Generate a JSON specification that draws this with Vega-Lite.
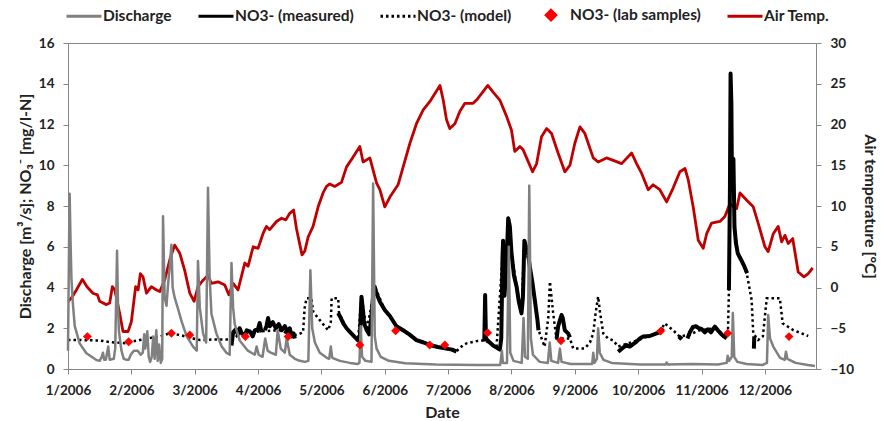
{
  "$schema": "https://vega.github.io/schema/vega-lite/v6.json",
  "width": 748,
  "height": 326,
  "autosize": {"type": "none"},
  "padding": {"left": 68, "top": 43, "right": 67, "bottom": 52},
  "background": "white",
  "config": {
    "font": "Lato",
    "view": {"stroke": "#868686", "strokeWidth": 1},
    "axis": {"labelFont": "Lato", "labelFontWeight": "bold", "labelFontSize": 13.5, "labelColor": "#222222", "titleFont": "Lato", "titleFontWeight": "bold", "titleFontSize": 16, "titleColor": "#222222", "domainColor": "#868686", "tickColor": "#868686", "tickSize": 5, "grid": false, "labelPadding": 9}
  },
  "datasets": {
    "discharge": [
      {"day":0,"v":0.9},{"day":0.5,"v":6.0},{"day":0.8,"v":8.6},{"day":1.3,"v":6.0},{"day":1.7,"v":4.4},{"day":2.4,"v":3.2},{"day":3.3,"v":2.1},{"day":5.7,"v":1.26},{"day":9.0,"v":0.77},{"day":13.9,"v":0.44},{"day":15.5,"v":0.4},{"day":16.5,"v":0.6},{"day":17.1,"v":0.8},{"day":17.7,"v":0.45},{"day":18.5,"v":0.45},{"day":19.7,"v":1.1},{"day":20.4,"v":0.45},{"day":22.4,"v":0.5},{"day":23.1,"v":1.0},{"day":24.0,"v":5.8},{"day":24.5,"v":3.0},{"day":24.9,"v":1.9},{"day":26.1,"v":0.93},{"day":27.3,"v":0.5},{"day":28.7,"v":0.45},{"day":29.7,"v":0.45},{"day":30.7,"v":0.7},{"day":32.2,"v":0.9},{"day":34.1,"v":0.9},{"day":35.6,"v":0.7},{"day":36.6,"v":0.8},{"day":37.3,"v":1.7},{"day":37.8,"v":1.0},{"day":38.8,"v":1.85},{"day":39.5,"v":0.6},{"day":40.2,"v":0.35},{"day":41.0,"v":0.6},{"day":41.7,"v":1.6},{"day":42.4,"v":0.5},{"day":43.2,"v":1.9},{"day":43.9,"v":0.4},{"day":44.6,"v":1.2},{"day":45.4,"v":0.3},{"day":46.1,"v":0.5},{"day":46.5,"v":7.5},{"day":47.3,"v":3.5},{"day":48.2,"v":3.1},{"day":49.0,"v":4.2},{"day":49.8,"v":5.0},{"day":50.6,"v":6.1},{"day":51.2,"v":4.0},{"day":52.2,"v":3.5},{"day":53.7,"v":3.0},{"day":55.7,"v":2.3},{"day":58.1,"v":1.6},{"day":61.2,"v":1.1},{"day":63.0,"v":0.9},{"day":63.6,"v":5.3},{"day":64.5,"v":3.0},{"day":66.1,"v":1.75},{"day":67.6,"v":1.3},{"day":68.5,"v":8.9},{"day":69.3,"v":4.5},{"day":70.2,"v":2.7},{"day":72.6,"v":1.75},{"day":75.2,"v":1.1},{"day":77.5,"v":0.8},{"day":79.1,"v":0.7},{"day":80.0,"v":5.2},{"day":80.8,"v":3.0},{"day":81.6,"v":2.2},{"day":84.0,"v":1.4},{"day":88.0,"v":0.9},{"day":91.4,"v":0.7},{"day":92.3,"v":1.1},{"day":93.3,"v":0.7},{"day":95.2,"v":0.6},{"day":96.5,"v":1.5},{"day":97.7,"v":0.9},{"day":99.2,"v":0.8},{"day":101.7,"v":0.7},{"day":102.6,"v":1.9},{"day":104.1,"v":1.0},{"day":106.1,"v":0.8},{"day":107.0,"v":1.5},{"day":108.5,"v":0.7},{"day":111.0,"v":0.5},{"day":113.4,"v":0.4},{"day":115.9,"v":0.35},{"day":117.6,"v":0.4},{"day":118.6,"v":4.85},{"day":119.5,"v":2.0},{"day":120.8,"v":1.3},{"day":123.2,"v":0.8},{"day":126.6,"v":0.55},{"day":127.8,"v":0.5},{"day":128.6,"v":1.1},{"day":129.3,"v":0.55},{"day":133.0,"v":0.4},{"day":137.9,"v":0.3},{"day":141.8,"v":0.25},{"day":142.6,"v":0.3},{"day":143.2,"v":2.1},{"day":143.9,"v":0.6},{"day":145.5,"v":0.4},{"day":148.5,"v":0.35},{"day":149.3,"v":9.1},{"day":150.1,"v":1.6},{"day":151.0,"v":1.0},{"day":153,"v":0.6},{"day":157,"v":0.4},{"day":165,"v":0.28},{"day":180,"v":0.22},{"day":200,"v":0.2},{"day":211.5,"v":0.2},{"day":212.3,"v":0.9},{"day":212.8,"v":0.3},{"day":214.8,"v":0.3},{"day":215.7,"v":6.0},{"day":216.4,"v":0.8},{"day":218,"v":0.4},{"day":222,"v":0.3},{"day":222.9,"v":2.5},{"day":223.6,"v":0.6},{"day":225.0,"v":0.5},{"day":225.7,"v":9.0},{"day":226.5,"v":1.5},{"day":227.5,"v":0.7},{"day":230.8,"v":0.35},{"day":234.8,"v":0.3},{"day":235.7,"v":1.3},{"day":236.5,"v":0.4},{"day":239.8,"v":0.3},{"day":240.7,"v":1.0},{"day":241.5,"v":0.35},{"day":246,"v":0.25},{"day":256.5,"v":0.25},{"day":257.0,"v":0.8},{"day":257.6,"v":0.3},{"day":258.8,"v":0.5},{"day":259.4,"v":2.0},{"day":260.2,"v":0.8},{"day":262,"v":0.45},{"day":266,"v":0.3},{"day":280,"v":0.22},{"day":292.5,"v":0.22},{"day":292.9,"v":0.32},{"day":293.5,"v":0.22},{"day":305,"v":0.25},{"day":318,"v":0.22},{"day":322.3,"v":0.3},{"day":322.8,"v":0.65},{"day":323.5,"v":0.4},{"day":324.8,"v":0.6},{"day":325.3,"v":2.75},{"day":326.0,"v":0.6},{"day":327.5,"v":0.35},{"day":332,"v":0.25},{"day":340,"v":0.2},{"day":342.0,"v":0.3},{"day":342.6,"v":2.65},{"day":343.5,"v":1.5},{"day":345.1,"v":1.1},{"day":348.4,"v":0.55},{"day":350.7,"v":0.45},{"day":351.3,"v":0.85},{"day":352.0,"v":0.5},{"day":356,"v":0.3},{"day":362,"v":0.2},{"day":365.5,"v":0.15}
    ],
    "measured": [
      {"seg":"A","day":80.0,"v":1.15},{"seg":"A","day":80.8,"v":1.8},{"seg":"A","day":82.1,"v":1.95},{"seg":"A","day":83.1,"v":1.7},{"seg":"A","day":84.0,"v":2.0},{"seg":"A","day":85.0,"v":1.75},{"seg":"A","day":86.5,"v":1.67},{"seg":"A","day":87.5,"v":1.9},{"seg":"A","day":88.9,"v":1.85},{"seg":"A","day":90.4,"v":1.6},{"seg":"A","day":91.4,"v":1.9},{"seg":"A","day":92.9,"v":1.95},{"seg":"A","day":93.8,"v":2.25},{"seg":"A","day":94.7,"v":1.8},
      {"seg":"B","day":96.3,"v":1.9},{"seg":"B","day":97.1,"v":2.1},{"seg":"B","day":97.9,"v":2.5},{"seg":"B","day":98.7,"v":2.1},{"seg":"B","day":100.2,"v":2.3},{"seg":"B","day":101.7,"v":2.0},{"seg":"B","day":103.1,"v":2.2},{"seg":"B","day":104.6,"v":1.9},{"seg":"B","day":106.1,"v":2.1},{"seg":"B","day":107.5,"v":1.8},{"seg":"B","day":108.5,"v":2.0},{"seg":"B","day":109.5,"v":1.6},{"seg":"B","day":110.4,"v":1.75},{"seg":"B","day":111.0,"v":1.5},
      {"seg":"C","day":132.2,"v":2.75},{"seg":"C","day":133.5,"v":2.5},{"seg":"C","day":134.7,"v":2.24},{"seg":"C","day":136.3,"v":2.0},{"seg":"C","day":138.6,"v":1.75},{"seg":"C","day":141.9,"v":1.4},{"seg":"C","day":142.8,"v":1.5},{"seg":"C","day":143.2,"v":2.6},{"seg":"C","day":143.6,"v":3.55},{"seg":"C","day":144.2,"v":3.0},{"seg":"C","day":144.9,"v":2.24},{"seg":"C","day":146.2,"v":1.9},{"seg":"C","day":147.4,"v":1.7},{"seg":"C","day":148.3,"v":2.4},{"seg":"C","day":149.3,"v":3.6},{"seg":"C","day":150.1,"v":4.04},{"seg":"C","day":151.0,"v":3.7},{"seg":"C","day":152.6,"v":3.3},{"seg":"C","day":155.0,"v":2.9},{"seg":"C","day":157.5,"v":2.6},{"seg":"C","day":160.7,"v":2.1},{"seg":"C","day":164.0,"v":1.9},{"seg":"C","day":167.0,"v":1.7},{"seg":"C","day":170.5,"v":1.42},{"seg":"C","day":174.0,"v":1.3},{"seg":"C","day":177.0,"v":1.18},{"seg":"C","day":181.0,"v":1.08},{"seg":"C","day":185.2,"v":1.0},{"seg":"C","day":188.0,"v":0.95},{"seg":"C","day":190.1,"v":0.85},
      {"seg":"D","day":203.7,"v":1.35},{"seg":"D","day":204.1,"v":3.63},{"seg":"D","day":204.5,"v":1.5},{"seg":"D","day":206.4,"v":1.3},{"seg":"D","day":208,"v":1.15},{"seg":"D","day":209.7,"v":1.05},{"seg":"D","day":211.3,"v":0.95},{"seg":"D","day":212.0,"v":1.5},{"seg":"D","day":212.6,"v":5.5},{"seg":"D","day":212.9,"v":6.3},{"seg":"D","day":213.6,"v":3.6},{"seg":"D","day":214.5,"v":5.0},{"seg":"D","day":215.4,"v":7.4},{"seg":"D","day":216.2,"v":7.0},{"seg":"D","day":217.0,"v":5.7},{"seg":"D","day":218.2,"v":4.6},{"seg":"D","day":219.5,"v":4.04},{"seg":"D","day":220.6,"v":3.3},{"seg":"D","day":221.9,"v":2.73},{"seg":"D","day":222.6,"v":3.5},{"seg":"D","day":223.3,"v":6.3},{"seg":"D","day":224.1,"v":6.0},{"seg":"D","day":225.2,"v":5.6},{"seg":"D","day":226.0,"v":5.0},{"seg":"D","day":227.3,"v":4.2},{"seg":"D","day":228.4,"v":3.39},{"seg":"D","day":229.7,"v":2.4},{"seg":"D","day":230.2,"v":1.9},
      {"seg":"E","day":239.1,"v":1.5},{"seg":"E","day":239.8,"v":2.08},{"seg":"E","day":240.7,"v":2.4},{"seg":"E","day":241.5,"v":2.65},{"seg":"E","day":242.1,"v":2.5},{"seg":"E","day":243.1,"v":1.9},{"seg":"E","day":244.7,"v":1.75},{"seg":"E","day":245.6,"v":1.55},
      {"seg":"F","day":269.2,"v":0.85},{"seg":"F","day":271.0,"v":1.0},{"seg":"F","day":273.3,"v":1.18},{"seg":"F","day":274.9,"v":1.1},{"seg":"F","day":278.2,"v":1.34},{"seg":"F","day":279.8,"v":1.5},{"seg":"F","day":281.4,"v":1.59},{"seg":"F","day":284.7,"v":1.62},{"seg":"F","day":288.0,"v":1.75},{"seg":"F","day":289.6,"v":1.8},{"seg":"F","day":291.2,"v":2.0},
      {"seg":"G","day":298.9,"v":1.45},{"seg":"G","day":300.4,"v":1.6},
      {"seg":"H","day":303.1,"v":1.5},{"seg":"H","day":304.3,"v":1.8},{"seg":"H","day":305.7,"v":2.05},{"seg":"H","day":307.2,"v":2.1},{"seg":"H","day":308.7,"v":2.0},{"seg":"H","day":310.2,"v":1.95},{"seg":"H","day":311.6,"v":1.8},{"seg":"H","day":313.1,"v":1.95},{"seg":"H","day":314.6,"v":1.8},{"seg":"H","day":316.5,"v":2.08},{"seg":"H","day":318.0,"v":1.9},{"seg":"H","day":319.8,"v":1.7},{"seg":"H","day":320.9,"v":1.6},{"seg":"H","day":322.3,"v":1.5},
      {"seg":"I","day":323.4,"v":3.88},{"seg":"I","day":323.9,"v":9.0},{"seg":"I","day":324.2,"v":14.5},{"seg":"I","day":324.6,"v":13.0},{"seg":"I","day":324.8,"v":10.26},{"seg":"I","day":325.6,"v":10.3},{"seg":"I","day":326.1,"v":6.98},{"seg":"I","day":326.8,"v":6.2},{"seg":"I","day":327.7,"v":5.68},{"seg":"I","day":329.4,"v":5.35},{"seg":"I","day":331.0,"v":5.02},{"seg":"I","day":332.3,"v":4.7},
      {"seg":"J","day":335.6,"v":1.0},{"seg":"J","day":335.8,"v":1.6}
    ],
    "model": [
      {"day":0,"v":1.42},{"day":5.7,"v":1.42},{"day":15.5,"v":1.4},{"day":20.4,"v":1.32},{"day":27.7,"v":1.27},{"day":31.0,"v":1.34},{"day":35.1,"v":1.42},{"day":40.0,"v":1.52},{"day":44.9,"v":1.6},{"day":49.8,"v":1.75},{"day":54.7,"v":1.67},{"day":61.2,"v":1.5},{"day":64.5,"v":1.42},{"day":71.0,"v":1.45},{"day":80.0,"v":1.45},{"day":84.0,"v":1.7},{"day":93.8,"v":1.85},{"day":103.6,"v":1.9},{"day":110.1,"v":1.65},{"day":112.6,"v":1.7},{"day":115.0,"v":1.8},{"day":115.8,"v":3.0},{"day":116.7,"v":3.47},{"day":119.1,"v":3.47},{"day":120.0,"v":2.8},{"day":123.2,"v":2.4},{"day":127.3,"v":1.9},{"day":128.6,"v":2.3},{"day":129.0,"v":3.47},{"day":132.2,"v":3.47},{"day":132.6,"v":2.75},{"day":136.3,"v":2.0},{"day":141.9,"v":1.4},{"day":143.6,"v":3.55},{"day":146.2,"v":1.9},{"day":150.1,"v":4.04},{"day":155.0,"v":2.9},{"day":160.7,"v":2.1},{"day":170.5,"v":1.42},{"day":181.0,"v":1.08},{"day":190.1,"v":0.88},{"day":193.4,"v":1.18},{"day":195,"v":1.26},{"day":201.5,"v":1.4},{"day":203.9,"v":1.4},{"day":209.7,"v":1.1},{"day":212.6,"v":5.5},{"day":212.9,"v":6.3},{"day":213.6,"v":3.6},{"day":215.4,"v":7.4},{"day":217.0,"v":5.7},{"day":219.5,"v":4.04},{"day":221.9,"v":2.73},{"day":223.3,"v":6.3},{"day":226.0,"v":5.0},{"day":228.4,"v":3.39},{"day":229.7,"v":2.4},{"day":230.8,"v":1.75},{"day":233.2,"v":1.1},{"day":235.0,"v":2.5},{"day":235.8,"v":4.29},{"day":237.4,"v":2.73},{"day":239.0,"v":1.5},{"day":245.6,"v":1.5},{"day":247.2,"v":1.01},{"day":252.9,"v":1.01},{"day":255.4,"v":1.3},{"day":257.0,"v":1.75},{"day":258.1,"v":2.7},{"day":259.4,"v":3.55},{"day":260.3,"v":2.8},{"day":261.9,"v":1.75},{"day":264.2,"v":1.5},{"day":266.8,"v":1.4},{"day":269.2,"v":1.1},{"day":279.8,"v":1.45},{"day":290.0,"v":1.85},{"day":291.9,"v":2.24},{"day":296.0,"v":1.91},{"day":299.3,"v":1.59},{"day":303.4,"v":1.67},{"day":309.2,"v":1.9},{"day":316.5,"v":2.0},{"day":322.1,"v":1.6},{"day":322.9,"v":1.75},{"day":323.4,"v":3.88},{"day":324.2,"v":13.0},{"day":324.8,"v":10.26},{"day":325.6,"v":10.3},{"day":326.1,"v":6.98},{"day":327.7,"v":5.68},{"day":331.0,"v":5.02},{"day":332.3,"v":4.6},{"day":334.5,"v":3.39},{"day":335.3,"v":1.75},{"day":337.7,"v":1.42},{"day":340.0,"v":1.6},{"day":341.9,"v":3.47},{"day":348.3,"v":3.47},{"day":349.7,"v":2.24},{"day":354.9,"v":1.91},{"day":362.2,"v":1.62}
    ],
    "lab": [
      {"day":9.5,"v":1.59},{"day":29.7,"v":1.34},{"day":50.6,"v":1.75},{"day":59.6,"v":1.67},{"day":86.8,"v":1.59},{"day":107.7,"v":1.59},{"day":142.8,"v":1.18},{"day":160.3,"v":1.88},{"day":177.0,"v":1.18},{"day":184.4,"v":1.18},{"day":205.3,"v":1.78},{"day":241.2,"v":1.39},{"day":290.0,"v":1.86},{"day":322.8,"v":1.75},{"day":352.8,"v":1.59}
    ],
    "temp": [
      {"day":0,"t":-1.7},{"day":1.7,"t":-1.3},{"day":4.1,"t":-0.3},{"day":7.0,"t":1.0},{"day":9.3,"t":0.1},{"day":12.2,"t":-0.7},{"day":14.4,"t":-0.9},{"day":15.5,"t":-1.7},{"day":18.8,"t":-2.1},{"day":20.4,"t":-1.9},{"day":21.7,"t":0.1},{"day":22.9,"t":-0.3},{"day":25.3,"t":-3.2},{"day":26.9,"t":-5.4},{"day":29.4,"t":-5.4},{"day":31.0,"t":-4.2},{"day":33.1,"t":0.1},{"day":34.3,"t":-0.3},{"day":35.4,"t":1.7},{"day":36.7,"t":1.3},{"day":38.4,"t":-0.7},{"day":40.8,"t":0.1},{"day":43.3,"t":-0.3},{"day":44.9,"t":-0.5},{"day":47.3,"t":0.9},{"day":49.8,"t":3.4},{"day":52.2,"t":5.2},{"day":54.7,"t":4.2},{"day":57.1,"t":2.1},{"day":59.6,"t":-0.7},{"day":61.7,"t":-1.7},{"day":63.6,"t":0.1},{"day":66.1,"t":0.9},{"day":68.5,"t":1.5},{"day":70.2,"t":0.5},{"day":73.4,"t":0.7},{"day":76.7,"t":0.3},{"day":78.7,"t":-0.9},{"day":80.8,"t":0.5},{"day":83.2,"t":-0.3},{"day":86.5,"t":3.0},{"day":88.1,"t":2.6},{"day":90.6,"t":5.0},{"day":93.0,"t":4.8},{"day":95.4,"t":6.6},{"day":97.1,"t":7.5},{"day":98.7,"t":7.1},{"day":102.0,"t":8.1},{"day":104.5,"t":8.5},{"day":106.6,"t":8.3},{"day":108.5,"t":9.1},{"day":110.4,"t":9.5},{"day":111.8,"t":7.2},{"day":114.5,"t":4.0},{"day":115.9,"t":4.5},{"day":117.5,"t":6.2},{"day":119.9,"t":7.5},{"day":122.4,"t":9.9},{"day":124.8,"t":11.6},{"day":126.5,"t":12.4},{"day":128.1,"t":12.7},{"day":130.5,"t":12.4},{"day":133.8,"t":12.9},{"day":136.3,"t":14.8},{"day":139.5,"t":16.0},{"day":142.8,"t":17.3},{"day":144.4,"t":15.4},{"day":147.7,"t":15.9},{"day":151.0,"t":12.8},{"day":152.6,"t":12.0},{"day":155.0,"t":9.9},{"day":157.5,"t":11.1},{"day":161.5,"t":12.6},{"day":164.0,"t":14.8},{"day":167.3,"t":17.7},{"day":170.5,"t":20.1},{"day":173.8,"t":21.8},{"day":177.0,"t":22.8},{"day":180.0,"t":24.0},{"day":182.0,"t":24.8},{"day":183.6,"t":23.0},{"day":185.2,"t":20.6},{"day":186.8,"t":19.5},{"day":189.3,"t":20.1},{"day":191.7,"t":21.6},{"day":194.2,"t":22.6},{"day":198.2,"t":22.6},{"day":199.9,"t":23.0},{"day":203.0,"t":24.0},{"day":205.4,"t":24.8},{"day":207.9,"t":24.0},{"day":211.3,"t":23.0},{"day":214.6,"t":21.0},{"day":217.0,"t":19.3},{"day":218.6,"t":16.7},{"day":221.1,"t":17.3},{"day":222.7,"t":16.9},{"day":224.4,"t":15.9},{"day":227.3,"t":14.2},{"day":229.3,"t":15.2},{"day":231.7,"t":18.5},{"day":234.2,"t":19.5},{"day":236.6,"t":18.9},{"day":239.8,"t":16.5},{"day":243.1,"t":14.2},{"day":245.6,"t":15.0},{"day":248.0,"t":17.7},{"day":250.5,"t":19.7},{"day":252.9,"t":18.9},{"day":257.0,"t":15.9},{"day":259.4,"t":15.4},{"day":263.5,"t":15.9},{"day":266.8,"t":15.6},{"day":270.9,"t":15.2},{"day":275.8,"t":16.5},{"day":278.2,"t":15.2},{"day":280.7,"t":14.0},{"day":283.9,"t":12.0},{"day":286.3,"t":12.6},{"day":289.6,"t":12.0},{"day":292.9,"t":10.5},{"day":296.1,"t":12.2},{"day":299.4,"t":14.2},{"day":301.9,"t":14.6},{"day":303.5,"t":13.2},{"day":305.9,"t":9.9},{"day":308.4,"t":5.8},{"day":310.8,"t":4.8},{"day":312.5,"t":6.6},{"day":314.9,"t":7.9},{"day":319.0,"t":8.1},{"day":321.4,"t":8.7},{"day":323.9,"t":10.3},{"day":325.5,"t":9.9},{"day":327.2,"t":9.7},{"day":328.8,"t":11.6},{"day":332.1,"t":10.7},{"day":335.3,"t":9.9},{"day":337.7,"t":7.9},{"day":341.0,"t":5.0},{"day":342.6,"t":4.4},{"day":345.1,"t":6.6},{"day":347.5,"t":7.5},{"day":349.2,"t":5.6},{"day":350.8,"t":6.4},{"day":352.4,"t":5.4},{"day":354.6,"t":6.0},{"day":357.3,"t":1.9},{"day":360.1,"t":1.3},{"day":362.2,"t":1.7},{"day":364.4,"t":2.4}
    ]
  },
  "encoding": {
    "x": {
      "field": "day", "type": "quantitative",
      "scale": {"domain": [0, 366], "nice": false, "zero": false},
      "axis": {"title": "Date", "values": [0,31,62,93,124,155,186,217,248,279,310,341], "labelExpr": "timeFormat(datetime(2006, 0, 1 + datum.value), '%-m/%Y')", "titlePadding": 8, "labelFlush": false}
    }
  },
  "layer": [
    {
      "data": {"name": "temp"},
      "mark": {"type": "line", "strokeWidth": 2.8, "strokeJoin": "round"},
      "encoding": {
        "y": {"field": "t", "type": "quantitative", "scale": {"domain": [-10, 30], "nice": false}, "axis": {"orient": "right", "title": "Air temperature [°C]", "values": [-10,-5,0,5,10,15,20,25,30], "titlePadding": 8}},
        "color": {
          "datum": "Air Temp.",
          "scale": {"domain": ["Discharge", "NO3- (measured)", "NO3- (model)", "NO3- (lab samples)", "Air Temp."], "range": ["#808080", "#000000", "#000000", "#FF0000", "#C00000"]},
          "legend": {
            "title": null, "orient": "none", "legendX": -3, "legendY": -47, "direction": "horizontal", "columns": 5,
            "symbolSize": 1225, "symbolStrokeWidth": 3, "labelFont": "Lato", "labelFontSize": 15.5, "labelFontWeight": "bold", "labelColor": "#222222", "columnPadding": 20, "labelOffset": 0,
            "encode": {"symbols": {"update": {
              "shape": {"signal": "datum.value === 'NO3- (lab samples)' ? 'diamond' : 'stroke'"},
              "size": {"signal": "datum.value === 'NO3- (lab samples)' ? 90 : 1225"},
              "fill": {"signal": "datum.value === 'NO3- (lab samples)' ? '#FF0000' : 'transparent'"},
              "stroke": {"signal": "datum.value === 'NO3- (lab samples)' ? 'transparent' : scale('color', datum.value)"},
              "strokeDash": {"signal": "datum.value === 'NO3- (model)' ? [2.5, 3] : [1, 0]"},
              "strokeWidth": {"value": 3},
              "opacity": {"value": 1}
            }}}
          }
        }
      }
    },
    {
      "encoding": {
        "y": {"field": "v", "type": "quantitative", "scale": {"domain": [0, 16], "nice": false}, "axis": {"orient": "left", "title": "Discharge [m³/s]; NO₃⁻ [mg/l-N]", "values": [0,2,4,6,8,10,12,14,16], "titlePadding": 5}}
      },
      "layer": [
        {
          "data": {"name": "measured"},
          "mark": {"type": "line", "strokeWidth": 4, "strokeJoin": "round"},
          "encoding": {"detail": {"field": "seg"}, "color": {"datum": "NO3- (measured)"}}
        },
        {
          "data": {"name": "model"},
          "mark": {"type": "line", "strokeWidth": 2.5, "strokeDash": [2.5, 3], "strokeCap": "butt"},
          "encoding": {"color": {"datum": "NO3- (model)"}}
        },
        {
          "data": {"name": "discharge"},
          "mark": {"type": "line", "strokeWidth": 2.5, "strokeJoin": "round"},
          "encoding": {"color": {"datum": "Discharge"}}
        },
        {
          "data": {"name": "lab"},
          "mark": {"type": "point", "shape": "diamond", "filled": true, "size": 80, "opacity": 1},
          "encoding": {"color": {"datum": "NO3- (lab samples)"}}
        }
      ]
    }
  ],
  "resolve": {"scale": {"y": "independent"}}
}
